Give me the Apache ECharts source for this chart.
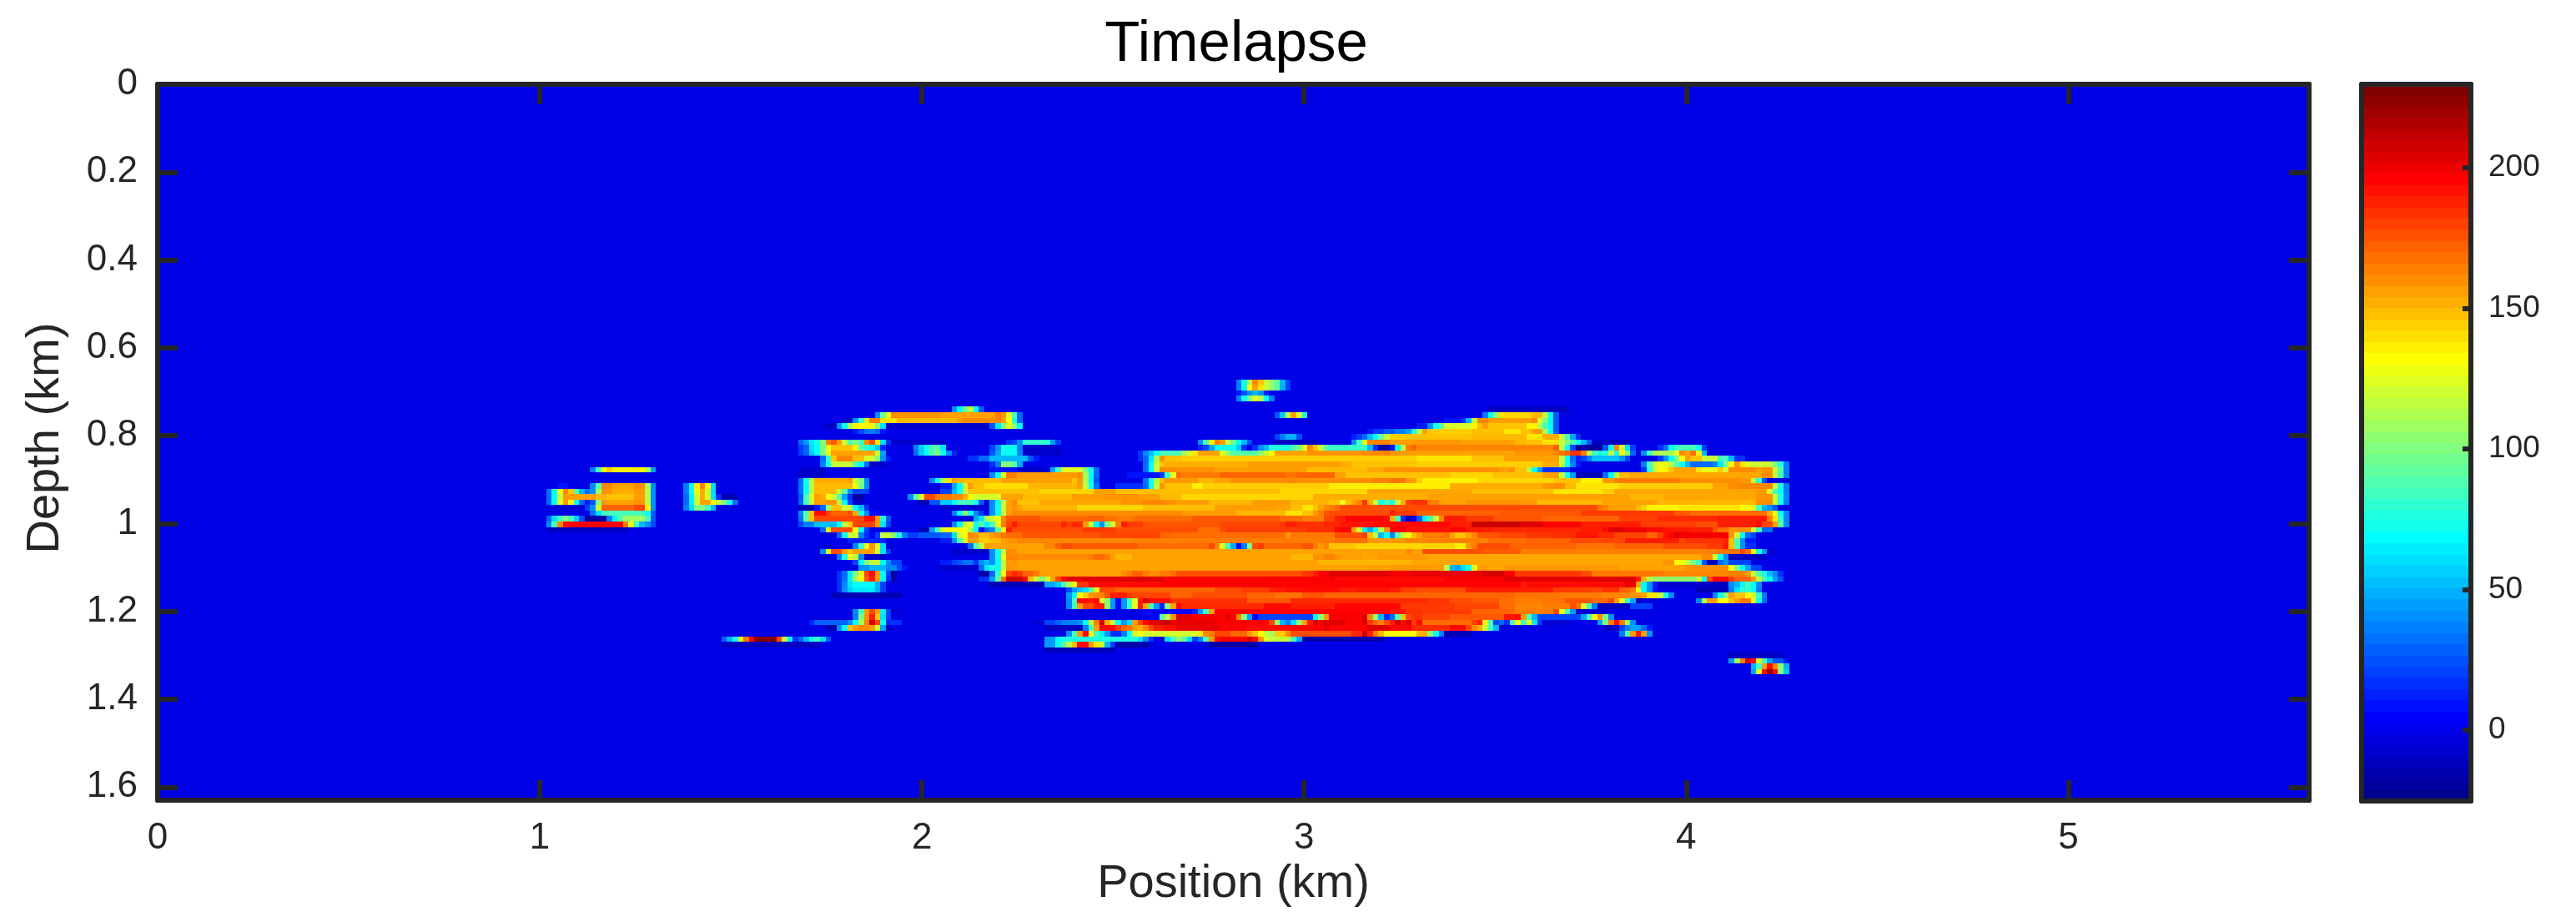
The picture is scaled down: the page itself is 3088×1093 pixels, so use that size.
<!DOCTYPE html>
<html>
<head>
<meta charset="utf-8">
<title>Timelapse</title>
<script src="https://cdn.jsdelivr.net/npm/echarts@6/dist/echarts.min.js"></script>
<style>
html, body { margin: 0; padding: 0; background: #fff; }
#graph { width: 3088px; height: 1093px; }
</style>
</head>
<body>
<div id="graph"></div>
<script>
// size of the section image (cells)
var colCount = 393;
var rowCount = 131;
var positionMax = 5.63; // km
var depthMax = 1.63;    // km
var colorMin = -25.2;
var colorMax = 229.7;
var background = -3;

var colorTicks = [0, 50, 100, 150, 200];

// each row: column, value, column, value ... a value holds until the next column
var r54 = [197,35,198,68,199,115,200,163,201,148,202,118,203,105,204,90,205,50,206,20,207,-3];
var r55 = [197,35,198,70,199,132,200,156,201,139,202,118,203,105,204,92,205,48,206,20,207,-3];
var r56 = [197,10,198,22,199,40,200,50,201,40,202,12,203,-3];
var r57 = [197,35,198,68,199,100,200,126,201,112,202,68,203,35,204,-3];
var r59 = [145,40,146,68,147,95,148,118,149,68,150,25,151,-3,243,-12,258,-3];
var r60 = [131,40,132,95,133,128,134,163,135,160,143,156,153,166,154,160,155,125,156,85,157,30,158,-3,204,25,205,55,206,115,207,157,208,122,209,72,210,-3,242,35,243,70,244,105,245,139,246,143,251,150,253,115,254,68,255,25,256,-3];
var r61 = [125,-12,127,40,128,85,129,125,130,165,132,139,135,150,146,157,147,162,153,164,154,157,155,132,156,75,157,30,158,-3,235,8,238,15,239,50,240,118,241,163,243,157,251,162,252,125,253,100,254,68,255,25,256,-3];
var r62 = [122,-12,124,40,125,70,126,110,127,135,131,100,132,60,133,-10,150,-10,152,25,153,62,154,100,155,125,156,105,157,68,158,-3,230,10,232,40,233,72,234,90,235,122,240,135,241,150,242,157,243,148,250,135,252,115,253,85,254,68,255,25,256,-3];
var r63 = [127,10,128,22,129,32,130,35,131,28,132,8,133,-3,221,8,222,18,224,25,226,35,228,45,229,75,230,115,231,157,232,145,240,148,246,139,249,148,251,157,253,110,254,70,255,25,256,-3];
var r64 = [204,20,205,35,206,48,208,22,209,-3,218,10,219,18,220,30,221,50,222,68,223,95,224,118,225,145,228,148,240,150,250,139,253,153,256,118,257,85,258,45,259,15,260,-3];
var r65 = [117,30,118,42,119,62,120,75,121,100,122,166,123,175,124,157,125,118,126,85,127,100,128,85,129,163,130,178,131,139,132,60,133,15,134,-10,139,-10,144,-3,155,15,156,20,157,40,158,80,162,78,163,42,164,18,165,-3,190,40,191,85,192,135,193,166,194,157,195,118,196,95,197,68,198,50,199,22,200,-3,204,-10,212,-3,218,40,219,85,220,125,221,164,225,157,230,159,238,156,248,151,250,148,253,139,256,118,257,100,258,85,259,68,260,50,261,25,262,-12,269,-3];
var r66 = [117,18,118,28,119,60,120,70,121,100,122,128,123,148,127,135,128,90,129,80,130,68,131,52,132,15,133,-3,138,35,139,55,140,72,141,88,143,62,144,-3,152,20,153,40,154,72,156,68,157,35,158,-10,165,-3,190,12,191,20,192,45,193,72,197,55,198,15,199,-3,200,15,201,40,202,50,203,75,207,88,208,100,209,125,210,163,211,148,212,118,213,90,214,82,221,50,222,15,223,-20,225,8,226,68,227,120,228,166,229,172,230,164,255,172,256,115,257,68,258,20,259,-20,264,25,265,70,266,163,267,120,268,60,269,20,270,-3,274,15,275,30,276,70,277,85,281,68,282,18,283,-3];
var r67 = [117,18,118,28,119,55,120,70,121,100,122,125,123,156,131,118,132,45,133,-3,138,30,139,55,140,70,141,90,142,100,143,72,144,40,145,12,146,-3,152,25,153,45,154,70,157,38,158,-10,165,-3,179,15,180,38,181,50,182,68,183,85,187,110,188,120,189,139,190,157,194,125,195,105,196,88,201,105,202,118,203,132,204,156,210,160,220,162,222,163,224,166,225,160,227,157,239,156,248,160,255,163,256,168,257,172,258,185,260,166,261,115,262,85,263,72,264,80,265,115,266,75,267,135,268,100,269,30,270,-3,271,40,272,85,273,112,277,125,278,163,279,157,280,170,281,135,282,50,283,-3];
var r68 = [121,30,122,80,123,145,124,164,127,150,129,122,131,100,132,40,133,10,134,-3,148,15,150,30,152,50,159,25,160,10,161,-3,179,15,180,30,181,62,182,110,183,160,184,148,187,145,230,139,240,148,246,156,256,118,257,70,258,30,259,12,260,20,261,35,262,52,267,40,268,20,269,-3,274,18,275,40,276,68,277,100,278,132,279,157,280,148,282,118,285,85,287,50,288,15,290,-3];
var r69 = [121,35,122,72,123,118,127,88,128,70,129,30,130,-10,133,-3,152,15,153,35,154,105,155,100,156,90,157,48,158,-3,180,30,181,70,182,118,183,148,184,153,199,157,216,153,218,148,230,145,253,153,256,115,257,68,258,35,259,10,260,-3,271,35,272,85,273,120,274,128,276,112,277,90,278,70,279,50,280,30,284,38,285,62,286,100,287,132,288,160,289,139,290,125,291,120,295,100,296,78,297,35,298,-3];
var r70 = [79,35,80,85,81,132,82,145,83,135,87,137,88,135,89,112,90,45,91,-3,117,-10,122,-3,152,8,157,-10,163,45,164,85,165,125,169,100,170,70,171,30,172,-3,180,30,181,68,182,118,183,164,184,161,193,157,210,150,221,155,224,160,228,161,245,157,247,160,248,148,250,115,251,70,252,42,253,15,258,-3,271,15,272,80,273,118,274,135,276,148,277,156,281,139,282,128,285,145,286,122,287,162,292,157,293,160,295,120,296,90,297,35,298,-3];
var r71 = [117,-10,122,-3,152,38,153,70,154,128,155,166,157,158,168,160,169,110,170,68,171,30,172,-3,177,8,183,20,184,85,185,128,186,170,187,166,194,172,206,168,208,172,215,157,216,157,217,148,236,143,244,149,253,156,256,118,257,72,258,42,259,-15,264,30,265,68,266,115,267,150,269,155,293,162,295,118,296,85,297,35,298,-3];
var r72 = [117,30,118,70,119,115,120,153,126,158,127,118,128,100,129,38,130,-3,141,38,142,70,143,112,144,139,145,156,146,150,154,156,167,148,168,158,169,110,170,68,171,25,172,-3,180,32,181,72,182,115,183,148,184,158,190,151,193,156,196,161,206,163,208,161,222,165,225,168,228,157,230,145,231,136,241,143,255,148,260,136,264,158,266,166,278,161,289,158,291,118,292,80,293,25,294,-3];
var r73 = [73,8,75,-3,79,38,80,90,81,163,83,156,87,162,89,110,90,40,91,-3,96,35,97,70,98,135,99,163,100,135,101,60,102,-3,117,32,118,70,119,115,120,150,127,128,128,95,129,40,130,-3,143,10,145,45,146,68,147,118,148,157,149,148,151,141,159,151,168,157,169,115,170,72,171,32,172,-3,175,15,180,30,181,72,182,118,183,160,184,148,189,136,191,145,214,137,236,153,253,159,255,161,257,150,259,139,267,145,284,156,287,162,289,163,295,118,296,75,297,35,298,-3];
var r74 = [71,30,72,68,73,128,74,162,75,148,76,90,77,50,78,30,79,40,80,110,81,160,83,153,87,158,89,115,90,40,91,-3,96,35,97,68,98,128,99,153,100,120,101,60,102,-3,117,32,118,70,119,115,120,150,124,118,125,90,126,40,127,20,130,-3,143,20,145,50,146,72,147,118,148,148,161,143,171,156,175,149,205,143,221,155,240,149,255,139,264,145,266,155,292,158,294,125,295,85,296,70,297,35,298,-3];
var r75 = [71,30,72,68,73,118,74,158,75,156,80,151,82,148,87,157,89,115,90,40,91,-3,96,30,97,65,98,120,99,153,100,125,101,62,102,15,103,-15,106,-3,117,25,118,85,119,125,120,157,121,153,122,135,123,120,124,90,125,45,126,15,127,-20,129,-3,137,40,138,90,139,125,140,178,142,166,145,163,147,153,148,135,149,122,153,125,154,156,158,150,167,157,173,160,179,157,183,150,187,143,211,153,232,156,269,151,275,155,292,160,295,118,296,75,297,38,298,-3];
var r76 = [71,30,72,68,73,125,74,157,75,132,76,70,77,30,78,10,79,25,80,100,81,160,82,156,87,160,89,115,90,40,91,-3,96,30,97,65,98,118,99,156,101,132,102,118,103,100,104,72,105,30,106,-3,117,28,118,85,119,120,120,156,122,160,124,118,125,68,126,20,127,-10,129,-3,139,-15,141,25,143,55,145,68,146,85,149,72,150,25,151,-8,152,40,153,72,154,118,155,156,156,162,157,148,161,155,176,160,180,164,184,161,186,157,192,151,200,157,207,151,214,147,216,128,217,148,218,157,219,163,220,185,221,153,222,120,223,72,224,85,225,72,226,118,227,153,228,180,229,185,232,166,234,158,235,156,239,160,249,158,252,150,264,156,274,151,282,150,292,162,295,118,296,75,297,35,298,-3];
var r77 = [72,-8,78,20,79,40,80,120,81,172,87,180,89,135,90,40,91,-3,96,35,97,60,98,100,100,85,101,50,102,-3,117,-15,120,10,121,30,122,105,123,148,125,118,127,68,128,50,129,15,130,-3,143,-8,152,40,153,70,154,118,155,156,156,160,157,155,158,151,168,143,180,149,193,157,204,155,207,149,209,139,211,148,212,157,213,163,214,166,215,170,216,178,263,168,264,163,265,157,270,151,271,145,272,136,278,139,289,132,291,122,292,85,293,50,294,40,295,25,296,-3];
var r78 = [79,32,80,60,81,85,89,68,90,25,91,-3,117,38,118,88,119,148,120,195,122,182,123,172,126,178,127,153,128,72,129,40,130,5,132,-3,145,35,146,68,147,105,148,72,149,40,150,15,151,-3,152,40,153,70,154,118,155,157,156,163,157,162,187,158,197,151,206,139,209,148,211,160,212,166,213,175,214,178,225,190,226,183,230,172,245,175,260,183,277,175,280,170,294,153,295,128,296,70,297,38,298,-3];
var r79 = [71,28,72,60,73,85,74,100,75,85,76,55,77,22,78,-20,82,35,83,65,84,88,85,108,89,85,90,25,91,-3,117,32,118,92,119,148,120,180,129,195,131,157,132,75,133,25,134,-3,148,-8,149,45,150,62,151,112,152,120,153,128,154,163,155,176,161,171,170,173,173,168,175,166,178,170,189,175,205,170,209,166,213,180,215,190,217,197,224,195,225,153,226,85,227,15,228,-15,229,-5,230,25,231,65,232,88,233,120,234,163,235,190,239,183,244,176,253,172,267,182,274,187,285,190,293,192,294,166,295,139,296,82,297,38,298,-3];
var r80 = [71,38,72,85,73,163,74,195,75,198,85,166,86,125,87,85,88,50,89,40,90,22,91,-3,117,20,118,35,120,52,124,68,125,115,126,145,127,180,131,156,132,62,133,20,134,-3,145,38,146,68,147,120,148,125,149,72,150,88,151,65,152,85,153,128,154,166,155,180,156,190,157,180,165,188,166,182,167,187,169,158,170,118,171,65,172,40,173,100,174,120,175,166,176,190,177,183,180,176,194,180,205,183,206,190,208,185,213,188,216,192,222,195,236,190,240,210,249,205,253,197,260,190,271,182,281,178,285,190,292,195,293,180,295,157,296,90,297,38,298,-3];
var r81 = [71,-12,86,-3,121,30,122,139,123,178,127,132,128,68,129,20,130,-3,139,-15,141,45,142,85,143,125,144,132,148,110,149,68,150,5,151,25,152,38,153,90,154,132,155,190,156,178,169,183,175,178,190,170,194,178,195,182,210,186,215,195,216,197,218,157,219,120,220,65,221,45,222,68,223,115,224,160,225,198,228,193,236,197,239,190,244,188,260,190,264,195,265,205,268,200,272,195,275,192,280,190,284,178,285,170,287,160,291,120,292,85,293,30,295,-10,296,-3];
var r82 = [124,28,125,70,126,118,127,120,128,35,129,15,130,5,131,20,132,115,133,120,134,100,135,72,136,35,137,18,139,25,143,28,144,30,145,60,146,120,147,132,148,163,149,160,150,150,152,158,153,162,154,168,155,170,158,176,172,180,183,172,185,170,206,160,207,167,215,178,220,182,221,148,222,115,223,50,224,68,225,38,226,90,227,118,228,128,229,150,230,158,231,166,235,168,236,157,237,148,239,156,240,163,241,176,245,180,250,184,255,186,259,192,263,187,266,180,272,172,274,182,275,193,276,197,277,205,278,200,287,160,288,118,289,68,290,30,291,20,292,-3];
var r83 = [126,12,133,-3,143,10,145,40,146,88,147,125,148,157,150,145,152,150,154,157,155,160,157,163,178,165,187,166,215,169,221,159,228,163,232,165,243,170,250,172,258,178,264,180,268,190,278,180,279,185,286,190,287,148,288,88,289,40,290,10,292,-3];
var r84 = [127,38,128,85,129,128,130,160,131,125,132,60,133,-3,148,30,149,88,150,115,151,157,152,156,162,163,164,172,165,178,167,175,179,170,192,180,193,163,194,125,195,85,196,45,197,5,198,35,199,100,200,178,201,182,202,172,209,176,211,166,212,158,213,164,214,148,219,143,237,137,239,157,240,166,241,178,247,172,259,168,266,172,275,178,283,183,286,192,287,148,288,88,289,40,290,15,292,-3];
var r85 = [121,38,122,125,123,178,125,158,126,148,127,156,131,118,132,60,133,20,134,-3,145,-10,152,40,153,72,154,118,155,162,157,156,228,162,229,157,231,177,242,174,249,166,259,165,285,168,289,180,290,170,291,132,292,72,293,42,294,-10,296,-3];
var r86 = [124,35,125,75,126,132,127,115,128,38,129,-10,133,-3,152,40,153,72,154,128,155,163,157,162,170,166,171,170,173,166,174,157,175,151,178,156,207,151,211,160,213,164,215,160,216,157,220,155,223,158,232,155,282,162,284,122,285,72,286,40,287,-12,294,-3];
var r87 = [127,20,128,68,129,100,130,118,132,68,133,40,134,20,136,-3,143,10,145,20,146,25,147,32,149,15,150,40,151,50,152,40,153,70,154,115,155,157,156,160,157,156,212,151,229,155,275,160,277,132,279,118,280,100,281,85,282,25,283,-15,285,30,286,40,287,20,291,-3];
var r88 = [128,40,130,50,133,38,135,22,136,8,137,-3,143,-10,150,30,151,62,152,75,153,70,154,118,155,159,157,156,220,157,225,159,233,157,235,115,236,50,237,45,238,60,239,72,240,128,241,158,243,155,246,159,267,156,279,161,287,128,288,100,289,68,290,45,291,20,293,-3];
var r89 = [124,15,125,30,126,62,127,100,128,128,129,180,130,195,131,157,132,68,133,20,134,-20,135,-3,150,-20,152,30,153,82,154,132,155,180,156,188,157,182,158,172,160,166,161,157,176,162,177,166,178,172,180,166,181,162,183,166,185,170,186,177,209,183,211,190,212,197,214,205,225,200,229,203,242,208,246,198,248,183,260,178,262,167,275,163,287,165,290,157,291,118,292,90,293,72,294,50,295,38,296,15,297,-3];
var r90 = [124,15,125,32,126,65,127,110,128,135,129,175,130,190,131,157,132,70,133,15,134,-20,135,-3,150,15,152,45,153,90,154,168,155,210,158,195,159,148,160,118,161,100,162,120,163,156,164,180,165,195,166,205,184,198,215,195,235,198,246,205,270,190,271,153,272,115,273,105,281,118,282,70,283,178,284,196,287,182,288,172,291,157,292,118,293,85,294,72,295,45,296,25,297,-3];
var r91 = [124,15,125,38,126,62,127,68,131,48,132,20,133,-3,152,-15,162,45,164,55,165,85,166,112,167,128,168,185,170,195,183,198,203,197,249,190,250,195,268,203,270,157,271,68,272,40,273,10,274,-8,282,-12,287,40,288,50,289,68,290,85,291,68,292,40,293,-3];
var r92 = [124,15,125,40,126,55,127,62,131,48,132,20,133,-3,166,22,167,40,168,52,169,60,170,90,171,128,172,178,175,172,193,178,198,183,203,190,206,193,209,195,216,190,219,193,225,190,227,182,230,178,239,190,255,182,262,180,264,185,267,172,269,166,270,128,271,68,272,40,273,8,274,-3,281,-15,287,35,288,62,289,80,291,70,292,35,293,-3];
var r93 = [123,-15,136,-3,166,42,167,68,168,132,169,145,170,160,171,164,173,175,174,190,177,182,178,180,185,172,189,178,199,172,204,168,209,176,213,172,248,168,256,166,264,163,269,160,271,156,272,139,274,118,275,72,276,38,277,-3,284,38,285,72,286,105,287,157,288,148,290,132,291,120,292,82,293,35,294,-3];
var r94 = [166,38,167,85,168,195,170,190,171,195,172,125,173,105,174,42,175,5,176,42,177,85,178,125,179,190,180,205,181,195,185,185,199,175,207,187,232,184,236,178,240,175,245,170,248,166,253,168,257,176,262,170,265,180,266,157,267,128,268,80,269,45,270,-15,271,-3,281,38,282,112,283,156,285,132,287,148,288,158,289,166,291,128,292,70,293,30,294,-3];
var r95 = [166,38,167,85,168,157,169,178,171,190,173,105,174,42,175,5,176,42,177,85,178,125,179,190,180,153,181,85,182,42,183,12,184,100,185,157,186,195,187,187,202,195,207,190,215,196,227,183,237,180,245,170,248,164,253,166,258,178,259,170,260,125,261,85,262,35,263,-12,269,20,273,-3];
var r96 = [127,38,128,85,129,157,130,178,131,156,132,65,133,20,134,-8,136,-3,180,4,189,12,190,42,191,82,192,157,193,197,225,192,228,185,231,183,240,172,248,166,255,178,256,128,257,85,258,42,259,-8,265,-3];
var r97 = [127,35,128,100,129,160,130,190,131,145,132,60,133,20,134,-3,181,5,183,90,184,115,185,160,186,205,189,200,194,197,195,205,196,197,197,163,198,100,199,45,200,5,201,20,211,65,212,105,213,157,214,198,220,208,221,163,222,105,223,50,224,15,225,30,226,88,227,148,228,178,229,185,231,180,236,175,246,192,248,195,249,157,250,85,251,50,252,20,260,45,261,85,262,132,263,160,264,100,265,40,266,-3];
var r98 = [119,12,120,28,126,38,127,68,128,112,129,165,130,208,131,180,132,70,133,15,136,-3,160,-8,162,20,164,28,165,35,168,40,169,68,170,118,171,166,172,210,173,153,174,120,175,68,176,40,177,60,178,157,179,180,180,195,181,205,183,210,185,203,193,198,202,195,203,180,204,105,205,50,206,35,207,60,208,105,209,157,210,190,211,205,212,198,213,205,217,198,220,205,221,183,222,172,223,165,224,178,225,190,226,208,227,195,228,205,229,183,230,195,231,170,240,180,241,190,242,128,243,88,244,20,245,30,246,15,247,85,248,132,249,85,250,128,251,62,252,18,253,-8,258,-3,263,45,264,100,265,166,266,195,267,166,268,105,269,40,270,-3];
var r99 = [122,-15,124,38,125,68,126,148,127,157,128,162,130,157,131,118,132,45,133,-15,134,-3,162,-12,169,35,170,85,171,157,172,198,173,195,175,182,176,172,177,166,178,157,179,153,180,164,181,180,182,190,184,195,186,203,194,197,199,195,207,197,213,205,214,197,221,205,222,205,225,197,229,187,236,195,239,180,240,162,241,153,242,118,243,85,244,50,245,-3,264,-12,267,20,268,35,269,45,271,30,272,10,273,-3];
var r100 = [166,40,167,85,168,158,169,195,170,128,171,85,172,65,173,42,174,15,176,35,177,70,178,120,179,132,180,122,190,139,191,163,192,166,193,180,196,172,199,160,200,150,201,132,202,118,203,108,204,145,206,162,207,178,218,188,220,208,221,190,222,166,223,150,224,132,230,153,232,105,233,68,234,35,235,-15,240,-3,267,35,268,90,269,157,270,190,271,156,272,42,273,-3];
var r101 = [103,28,104,48,105,72,106,125,107,166,108,195,109,228,113,178,114,118,115,65,116,15,117,28,118,50,119,70,120,85,121,60,122,25,123,-3,162,42,164,68,165,75,179,60,180,38,181,15,182,-5,184,60,185,85,186,108,187,90,188,60,189,20,190,35,191,88,192,157,193,192,194,198,199,208,200,195,201,157,202,125,203,118,207,85,208,48,209,-18,224,-3];
var r102 = [103,-12,121,-3,162,42,164,70,165,90,166,115,167,148,168,195,170,158,171,139,172,118,173,50,174,18,175,-18,181,-3,192,-20,201,-3];
var r103 = [162,-15,175,-3];
var r104 = [287,-12,297,-3];
var r105 = [287,42,288,110,289,166,290,208,291,195,292,125,293,85,294,45,295,25,297,8,298,-3];
var r106 = [291,50,292,85,293,157,294,195,295,163,296,105,297,50,298,-3];
var r107 = [291,45,292,125,293,195,294,225,295,195,296,100,297,55,298,-3];

var rowBreaks = {
    54: r54, 55: r55, 56: r56, 57: r57, 59: r59, 60: r60, 61: r61, 62: r62, 63: r63,
    64: r64, 65: r65, 66: r66, 67: r67, 68: r68, 69: r69, 70: r70, 71: r71, 72: r72,
    73: r73, 74: r74, 75: r75, 76: r76, 77: r77, 78: r78, 79: r79, 80: r80, 81: r81,
    82: r82, 83: r83, 84: r84, 85: r85, 86: r86, 87: r87, 88: r88, 89: r89, 90: r90,
    91: r91, 92: r92, 93: r93, 94: r94, 95: r95, 96: r96, 97: r97, 98: r98, 99: r99,
    100: r100, 101: r101, 102: r102, 103: r103, 104: r104, 105: r105, 106: r106, 107: r107
};

function buildCells() {
    var cells = [];
    for (var r = 0; r < rowCount; r++) {
        var line = [];
        for (var c = 0; c < colCount; c++) line.push(background);
        var breaks = rowBreaks[r] || [];
        for (var i = 0; i < breaks.length; i += 2) {
            var end = i + 2 < breaks.length ? breaks[i + 2] : breaks[i] + 1;
            for (var k = breaks[i]; k < end; k++) line[k] = breaks[i + 1];
        }
        for (c = 0; c < colCount; c++) cells.push([c, r, line[c]]);
    }
    return cells;
}

// matlab style jet, 64 levels
function jet64() {
    var out = [];
    for (var i = 1; i <= 64; i++) {
        var t = i / 64;
        var r = Math.min(1, Math.max(0, Math.min(4 * t - 1.5, -4 * t + 4.5)));
        var g = Math.min(1, Math.max(0, Math.min(4 * t - 0.5, -4 * t + 3.5)));
        var b = Math.min(1, Math.max(0, Math.min(4 * t + 0.5, -4 * t + 2.5)));
        out.push('rgb(' + Math.round(r * 255) + ',' + Math.round(g * 255) + ',' + Math.round(b * 255) + ')');
    }
    return out;
}

// cells snapped to whole pixels, so no seams between them
function renderCell(params, api) {
    var center = api.coord([api.value(0), api.value(1)]);
    var size = api.size([1, 1]);
    var x0 = Math.round(center[0] - size[0] / 2);
    var x1 = Math.round(center[0] + size[0] / 2);
    var y0 = Math.round(center[1] - size[1] / 2);
    var y1 = Math.round(center[1] + size[1] / 2);
    return {
        type: 'rect',
        shape: {x: x0, y: y0, width: x1 - x0, height: y1 - y0},
        style: {fill: api.visual('color')},
        silent: true
    };
}

var axisColor = '#262626';
var fontName = '"Liberation Sans", Arial, sans-serif';
var chart = echarts.init(document.getElementById('graph'), null, {renderer: 'canvas'});

var colIndex = [], rowIndex = [], barLevels = [], barCells = [];
for (var i = 0; i < colCount; i++) colIndex.push(i);
for (i = 0; i < rowCount; i++) rowIndex.push(i);
for (i = 0; i < 64; i++) {
    barLevels.push(i);
    barCells.push([0, i, colorMin + i / 63 * (colorMax - colorMin)]);
}

function boxAxis(extra) {
    var base = {
        type: 'value',
        z: 10,
        axisLine: {show: true, onZero: false, lineStyle: {color: axisColor, width: 6}},
        axisTick: {show: true, inside: true, length: 24, lineStyle: {color: axisColor, width: 6}},
        splitLine: {show: false},
        axisLabel: {show: false}
    };
    for (var key in extra) base[key] = extra[key];
    return base;
}

var labelStyle = {show: true, color: axisColor, fontFamily: fontName, fontSize: 44, margin: 24, showMaxLabel: false};

chart.setOption({
    animation: false,
    backgroundColor: '#fff',
    title: {
        text: 'Timelapse', left: 1477, top: 14, textAlign: 'center',
        textStyle: {color: '#000', fontFamily: fontName, fontSize: 69, fontWeight: 'normal'}
    },
    grid: [
        {left: 189, top: 101, width: 2579, height: 859},
        {left: 2831, top: 101, width: 131, height: 859}
    ],
    xAxis: [
        {type: 'category', show: false, gridIndex: 0, data: colIndex},
        boxAxis({
            gridIndex: 0, position: 'bottom', min: 0, max: positionMax, interval: 1,
            axisLabel: labelStyle,
            name: 'Position (km)', nameLocation: 'middle', nameGap: 70,
            nameTextStyle: {color: axisColor, fontFamily: fontName, fontSize: 56}
        }),
        boxAxis({gridIndex: 0, position: 'top', min: 0, max: positionMax, interval: 1}),
        {type: 'category', show: false, gridIndex: 1, data: [0]},
        boxAxis({gridIndex: 1, position: 'bottom', min: 0, max: 1, axisTick: {show: false}}),
        boxAxis({gridIndex: 1, position: 'top', min: 0, max: 1, axisTick: {show: false}})
    ],
    yAxis: [
        {type: 'category', show: false, gridIndex: 0, inverse: true, data: rowIndex},
        boxAxis({
            gridIndex: 0, position: 'left', inverse: true, min: 0, max: depthMax, interval: 0.2,
            axisLabel: labelStyle,
            name: 'Depth (km)', nameLocation: 'middle', nameGap: 106,
            nameTextStyle: {color: axisColor, fontFamily: fontName, fontSize: 56, padding: [0, 0, 0, 10]}
        }),
        boxAxis({gridIndex: 0, position: 'right', inverse: true, min: 0, max: depthMax, interval: 0.2}),
        {type: 'category', show: false, gridIndex: 1, data: barLevels},
        boxAxis({
            gridIndex: 1, position: 'right', min: colorMin, max: colorMax,
            axisTick: {show: true, inside: true, length: 10, lineStyle: {color: axisColor, width: 6},
                customValues: colorTicks},
            axisLabel: {show: true, color: axisColor, fontFamily: fontName, fontSize: 37, margin: 21,
                customValues: colorTicks}
        }),
        boxAxis({gridIndex: 1, position: 'left', min: colorMin, max: colorMax, axisTick: {show: false}})
    ],
    visualMap: {
        show: false, type: 'continuous', dimension: 2, seriesIndex: [0, 1],
        min: colorMin, max: colorMax, inRange: {color: jet64()}
    },
    series: [
        {
            type: 'custom', xAxisIndex: 0, yAxisIndex: 0, data: buildCells(),
            encode: {x: 0, y: 1}, renderItem: renderCell, silent: true, clip: true,
            progressive: 0, progressiveThreshold: 100000000
        },
        {
            type: 'custom', xAxisIndex: 3, yAxisIndex: 3, data: barCells,
            encode: {x: 0, y: 1}, renderItem: renderCell, silent: true, clip: true,
            progressive: 0
        }
    ]
});
</script>
</body>
</html>
